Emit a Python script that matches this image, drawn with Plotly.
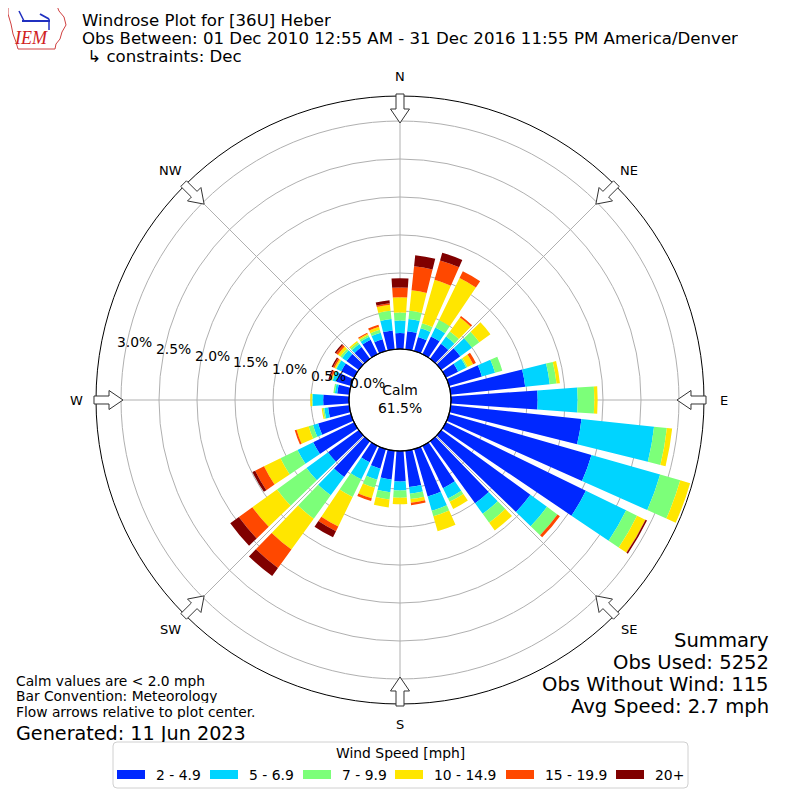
import plotly.graph_objects as go
import math

# ---------------- data ----------------
directions = list(range(0, 360, 10))
speed_bins = ["2 - 4.9", "5 - 6.9", "7 - 9.9", "10 - 14.9", "15 - 19.9", "20+"]
bin_colors = ["#0028ff", "#00d4ff", "#7cff79", "#ffe600", "#ff4800", "#800000"]

# percent frequency per direction (0,10,...,350 deg) for each speed bin
freq_2_5 = [0.21, 0.24, 0.19, 0.26, 0.245, 0.31, 0.18, 0.45, 0.985, 1.14, 1.73, 1.95,
            2.05, 1.45, 1.01, 0.62, 0.65, 0.48, 0.40, 0.38, 0.27, 0.24, 0.58, 0.50,
            0.60, 0.45, 0.28, 0.34, 0.16, 0.20, 0.19, 0.20, 0.19, 0.21, 0.16, 0.25]
freq_5_7 = [0.165, 0.16, 0.12, 0.13, 0.115, 0.19, 0.12, 0.18, 0.325, 0.527, 0.96, 0.94,
            0.59, 0.27, 0.17, 0.15, 0.195, 0.09, 0.12, 0.17, 0.15, 0.25, 0.30, 0.35,
            0.23, 0.07, 0.05, 0.14, 0.03, 0.05, 0.07, 0.07, 0.05, 0.045, 0.09, 0.15]
freq_7_10 = [0.105, 0.11, 0.07, 0.11, 0.085, 0.12, 0.02, 0.10, 0.09, 0.219, 0.17, 0.275,
             0.16, 0.17, 0.145, 0.05, 0.075, 0.07, 0.095, 0.095, 0.11, 0.26, 0.38, 0.48,
             0.25, 0.06, 0.02, 0.01, 0.02, 0.01, 0.01, 0.03, 0.03, 0.025, 0.04, 0.11]
freq_10_15 = [0.20, 0.27, 0.595, 0.615, 0.225, 0.18, 0.08, 0.0, 0.045, 0.044, 0.07, 0.135,
              0.12, 0.0, 0.125, 0.105, 0.205, 0.05, 0.085, 0.105, 0.145, 0.43, 0.50, 0.40,
              0.24, 0.165, 0.015, 0.02, 0.0, 0.01, 0.02, 0.04, 0.02, 0.02, 0.04, 0.08]
freq_15_20 = [0.13, 0.32, 0.265, 0.10, 0.025, 0.0, 0.04, 0.0, 0.0, 0.0, 0.0, 0.0,
              0.005, 0.04, 0.0, 0.0, 0.0, 0.03, 0.0, 0.0, 0.035, 0.07, 0.30, 0.22,
              0.13, 0.025, 0.0, 0.0, 0.0, 0.02, 0.02, 0.03, 0.0, 0.015, 0.03, 0.02]
freq_20p = [0.12, 0.145, 0.105, 0.0, 0.0, 0.0, 0.0, 0.0, 0.0, 0.0, 0.0, 0.0,
            0.02, 0.0, 0.0, 0.0, 0.0, 0.0, 0.0, 0.0, 0.0, 0.09, 0.13, 0.14,
            0.04, 0.0, 0.0, 0.0, 0.0, 0.02, 0.02, 0.02, 0.0, 0.0, 0.0, 0.04]
series = [freq_2_5, freq_5_7, freq_7_10, freq_10_15, freq_15_20, freq_20p]

radial_ticks = [0.0, 0.5, 1.0, 1.5, 2.0, 2.5, 3.0]
compass_angles = [0, 45, 90, 135, 180, 225, 270, 315]
compass_labels = ["N", "NE", "E", "SE", "S", "SW", "W", "NW"]

calm_pct = 61.5
title_lines = ["Windrose Plot for [36U] Heber",
               "Obs Between: 01 Dec 2010 12:55 AM - 31 Dec 2016 11:55 PM America/Denver",
               "\u00a0↳ constraints: Dec"]
notes_left = ["Calm values are < 2.0 mph", "Bar Convention: Meteorology",
              "Flow arrows relative to plot center."]
generated = "Generated: 11 Jun 2023"
summary_lines = ["Summary", "Obs Used: 5252", "Obs Without Wind: 115", "Avg Speed: 2.7 mph"]
legend_title = "Wind Speed [mph]"

# ---------------- geometry helpers (page pixels -> paper) ----------------
OFF = 8                      # browser body margin
W = H = 800 - 2 * OFF
CX, CY, R_OUT, R_HOLE = 400, 400, 304, 51
PX_PER_PCT = 76.0
FONT = "DejaVu Sans"


def px(x):
    return (x - OFF) / W


def py(y):
    return 1 - (y - OFF) / H


fig = go.Figure()
for vals, name, col in zip(series, speed_bins, bin_colors):
    fig.add_trace(go.Barpolar(r=vals, theta=directions, name=name, width=8,
                              marker=dict(color=col, line=dict(width=0)),
                              showlegend=False))

rmax = (R_OUT - R_HOLE) / PX_PER_PCT

fig.update_layout(
    width=W, height=H,
    margin=dict(l=0, r=0, t=0, b=0),
    paper_bgcolor="white",
    font=dict(family=FONT, color="black", size=13),
    polar=dict(
        domain=dict(x=[px(CX - R_OUT), px(CX + R_OUT)], y=[py(CY + R_OUT), py(CY - R_OUT)]),
        bgcolor="white",
        hole=R_HOLE / R_OUT,
        barmode="stack",
        radialaxis=dict(range=[0, rmax], tickvals=radial_ticks, showticklabels=False,
                        angle=170, showline=False, ticks="",
                        gridcolor="#b0b0b0", gridwidth=1),
        angularaxis=dict(direction="clockwise", rotation=90,
                         tickvals=compass_angles, showticklabels=False, ticks="",
                         showline=True, linecolor="black", linewidth=1,
                         gridcolor="#b0b0b0", gridwidth=1),
    ),
)

shapes = []
annotations = []
# hole outline
shapes.append(dict(type="circle", xref="paper", yref="paper",
                   x0=px(CX - R_HOLE), x1=px(CX + R_HOLE),
                   y0=py(CY + R_HOLE), y1=py(CY - R_HOLE),
                   line=dict(color="black", width=1.2), fillcolor="rgba(0,0,0,0)"))

# radial tick labels (horizontal text along the 170 deg direction)
lab_ang = math.radians(170)
for v in radial_ticks:
    rl = 32.5 + 79.2 * v
    lx = CX + rl * math.cos(lab_ang)
    ly = CY - rl * math.sin(lab_ang) - 11.3
    annotations.append(dict(x=px(lx), y=py(ly), xref="paper", yref="paper",
                            text="%.1f%%" % v, showarrow=False, xanchor="center",
                            yanchor="middle", font=dict(size=13.9, family=FONT)))

# compass labels outside the ring
for a, lab in zip(compass_angles, compass_labels):
    t = math.radians(a)
    annotations.append(dict(x=px(CX + 324 * math.sin(t)), y=py(CY - 324 * math.cos(t)),
                            xref="paper", yref="paper", text=lab, showarrow=False,
                            xanchor="center", yanchor="middle",
                            font=dict(size=13, family=FONT)))


# flow arrows
def arrow_path(theta):
    t = math.radians(theta)
    ux, uy = math.sin(t), -math.cos(t)   # outward direction in screen coords
    vx, vy = math.cos(t), math.sin(t)    # perpendicular

    def P(r, s):
        return (CX + r * ux + s * vx, CY + r * uy + s * vy)
    pts = [P(306, 4), P(291, 4), P(291, 9.5), P(277, 0), P(291, -9.5), P(291, -4), P(306, -4)]
    return "M " + " L ".join("%.5f,%.5f" % (px(x), py(y)) for x, y in pts) + " Z"


for a in compass_angles:
    shapes.append(dict(type="path", xref="paper", yref="paper", path=arrow_path(a),
                       fillcolor="white", line=dict(color="#333333", width=1)))

# IEM logo (approximate outline)
iowa = [(8, 6), (57, 6), (59, 11), (64, 17), (66, 25), (62, 32), (60, 39), (56, 44),
        (55, 49), (18, 49), (16, 42), (13, 34), (11, 24), (8, 14)]
shapes.append(dict(type="path", xref="paper", yref="paper",
                   path="M " + " L ".join("%.5f,%.5f" % (px(x), py(y)) for x, y in iowa) + " Z",
                   line=dict(color="#d04040", width=1), fillcolor="rgba(0,0,0,0)"))
shapes.append(dict(type="line", xref="paper", yref="paper", x0=px(22), x1=px(50),
                   y0=py(21), y1=py(21), line=dict(color="#2030c0", width=2)))
shapes.append(dict(type="line", xref="paper", yref="paper", x0=px(19), x1=px(24),
                   y0=py(11), y1=py(21), line=dict(color="#2030c0", width=1.5)))
shapes.append(dict(type="line", xref="paper", yref="paper", x0=px(40), x1=px(49),
                   y0=py(14), y1=py(19), line=dict(color="#2030c0", width=2)))
shapes.append(dict(type="line", xref="paper", yref="paper", x0=px(49), x1=px(49),
                   y0=py(19), y1=py(30), line=dict(color="#2030c0", width=1.5)))

# legend box (rounded)
lx0, lx1, ly0, ly1, rr = 113, 688, 742, 788, 4
lp = (f"M {px(lx0+rr)},{py(ly0)} L {px(lx1-rr)},{py(ly0)} Q {px(lx1)},{py(ly0)} {px(lx1)},{py(ly0+rr)} "
      f"L {px(lx1)},{py(ly1-rr)} Q {px(lx1)},{py(ly1)} {px(lx1-rr)},{py(ly1)} "
      f"L {px(lx0+rr)},{py(ly1)} Q {px(lx0)},{py(ly1)} {px(lx0)},{py(ly1-rr)} "
      f"L {px(lx0)},{py(ly0+rr)} Q {px(lx0)},{py(ly0)} {px(lx0+rr)},{py(ly0)} Z")
shapes.append(dict(type="path", xref="paper", yref="paper", path=lp,
                   line=dict(color="#d0d0d0", width=1), fillcolor="white"))

legend_x = [117, 210, 303, 395, 506, 616]
for x0, name, col in zip(legend_x, speed_bins, bin_colors):
    shapes.append(dict(type="rect", xref="paper", yref="paper", x0=px(x0), x1=px(x0 + 28),
                       y0=py(779), y1=py(770), fillcolor=col, line=dict(width=0)))
    annotations.append(dict(x=px(x0 + 37), y=py(775), xref="paper", yref="paper",
                            text=name, showarrow=False, xanchor="left", yanchor="middle",
                            font=dict(size=13.9, family=FONT)))
annotations.append(dict(x=px(400), y=py(753), xref="paper", yref="paper", text=legend_title,
                        showarrow=False, xanchor="center", yanchor="middle",
                        font=dict(size=13.9, family=FONT)))

# center calm text
annotations.append(dict(x=px(CX), y=py(399), xref="paper", yref="paper",
                        text="Calm<br>%.1f%%" % calm_pct, showarrow=False,
                        xanchor="center", yanchor="middle", font=dict(size=13.9, family=FONT)))

# title
for i, t in enumerate(title_lines):
    annotations.append(dict(x=px(80), y=py(20 + 18 * i), xref="paper", yref="paper", text=t,
                            showarrow=False, xanchor="left", yanchor="middle", height=18,
                            font=dict(size=16.6, family=FONT)))
# IEM text
annotations.append(dict(x=px(31), y=py(38), xref="paper", yref="paper", text="<i>IEM</i>",
                        showarrow=False, xanchor="center", yanchor="middle",
                        font=dict(size=18, family="Liberation Serif", color="#d02020")))

# notes bottom-left
for i, t in enumerate(notes_left):
    annotations.append(dict(x=px(14), y=py(680 + 15.5 * i), xref="paper", yref="paper", text=t,
                            showarrow=False, xanchor="left", yanchor="middle", height=15,
                            font=dict(size=13.8, family=FONT)))
annotations.append(dict(x=px(14), y=py(732.5), xref="paper", yref="paper", text=generated,
                        showarrow=False, xanchor="left", yanchor="middle", height=18,
                        font=dict(size=19.2, family=FONT)))
# summary bottom-right
for i, t in enumerate(summary_lines):
    annotations.append(dict(x=px(771), y=py(640 + 22 * i), xref="paper", yref="paper", text=t,
                            showarrow=False, xanchor="right", yanchor="middle", height=22,
                            font=dict(size=19.6, family=FONT)))

fig.update_layout(shapes=shapes, annotations=annotations)
fig.write_html("out.html")
